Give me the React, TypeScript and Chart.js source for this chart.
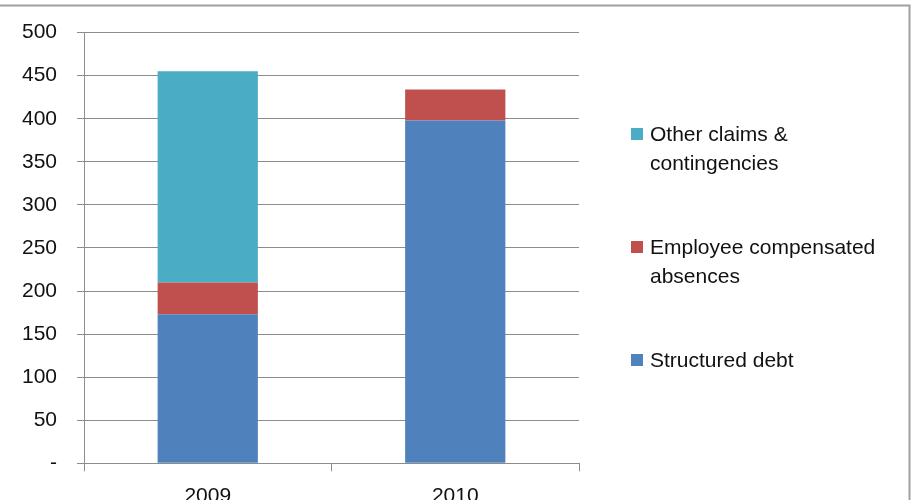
import React, { useEffect, useRef } from "react";
import { Chart, registerables } from "chart.js";

Chart.register(...registerables);

const categories = ["2009", "2010"];
const structuredDebt = [173, 398];
const employeeAbsences = [37, 36];
const otherClaims = [245, 0];
const yTickValues = [0, 50, 100, 150, 200, 250, 300, 350, 400, 450, 500];

const seriesNames = ["Structured debt", "Employee compensated absences", "Other claims & contingencies"];
const legendLines = [["Structured debt"], ["Employee compensated", "absences"], ["Other claims &", "contingencies"]];
const seriesColors = ["#4F81BD", "#C0504D", "#4BACC6"];

const FONT = "'Liberation Sans', Arial, sans-serif";
const GRID = "#8c8c8c";

const framePlugin = {
  id: "frameAndLegend",
  afterDraw(chart: any) {
    const ctx = chart.ctx;
    ctx.save();
    // outer frame
    ctx.strokeStyle = "#a0a0a0";
    ctx.lineWidth = 2;
    ctx.strokeRect(-10, 5.5, 919.5, 600);
    // legend (reverse order)
    const area = chart.chartArea;
    const x0 = area.right + 52;
    const tops = [354, 241, 128];
    ctx.font = `21px ${FONT}`;
    ctx.textBaseline = "alphabetic";
    ctx.textAlign = "left";
    chart.data.datasets.forEach((ds: any, i: number) => {
      const top = tops[i];
      ctx.fillStyle = ds.backgroundColor;
      ctx.fillRect(x0, top, 12, 12);
      ctx.fillStyle = "#111";
      legendLines[i].forEach((line, j) => {
        ctx.fillText(line, x0 + 19, top + 13 + j * 29);
      });
    });
    ctx.restore();
  },
};

export default function App() {
  const ref = useRef<HTMLCanvasElement | null>(null);
  useEffect(() => {
    if (!ref.current) return;
    const chart = new Chart(ref.current, {
      type: "bar",
      data: {
        labels: categories,
        datasets: [structuredDebt, employeeAbsences, otherClaims].map((d, i) => ({
          label: seriesNames[i],
          data: d,
          backgroundColor: seriesColors[i],
          borderWidth: 0,
          barPercentage: 0.405,
          categoryPercentage: 1,
        })),
      },
      options: {
        animation: false,
        responsive: false,
        maintainAspectRatio: false,
        layout: { padding: { left: 0, top: 27, right: 334, bottom: 0 } },
        plugins: { legend: { display: false }, tooltip: { enabled: false } },
        scales: {
          x: {
            stacked: true,
            afterFit: (s: any) => {
              s.height = 520 - 463.3;
            },
            grid: { display: true, drawOnChartArea: false, drawTicks: true, tickLength: 8, offset: true, color: GRID },
            border: { display: true, color: GRID },
            ticks: { color: "#111", font: { family: FONT, size: 21 }, padding: 12 },
          },
          y: {
            stacked: true,
            min: 0,
            max: 500,
            afterFit: (s: any) => {
              s.width = 84;
            },
            afterBuildTicks: (s: any) => {
              s.ticks = yTickValues.map((v) => ({ value: v }));
            },
            grid: { color: GRID, tickLength: 7, drawTicks: true },
            border: { display: true, color: GRID },
            ticks: {
              color: "#111",
              font: { family: FONT, size: 21 },
              padding: 20,
              callback: (v: any) => (Number(v) === 0 ? "-" : String(v)),
            },
          },
        },
      },
      plugins: [framePlugin],
    });
    return () => chart.destroy();
  }, []);
  return (
    <div style={{ position: "fixed", left: 0, top: 0, width: 913, height: 520, background: "#fff" }}>
      <canvas ref={ref} width={913} height={520} style={{ width: 913, height: 520, display: "block" }} />
    </div>
  );
}
